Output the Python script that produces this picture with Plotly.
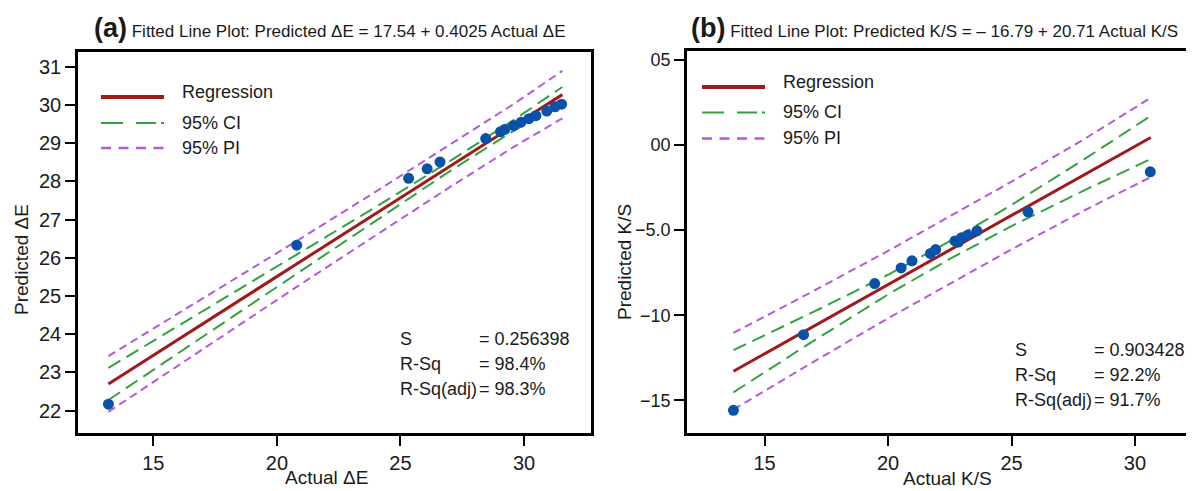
import plotly.graph_objects as go

# ---------------- data: panel (a) ----------------
ae_actual = [13.18, 20.80, 25.33, 26.08, 26.60, 28.45, 29.05, 29.22, 29.58, 29.88, 30.20, 30.48, 30.92, 31.25, 31.52]
ae_pred = [22.17, 26.33, 28.08, 28.33, 28.51, 29.12, 29.30, 29.36, 29.46, 29.55, 29.64, 29.72, 29.84, 29.95, 30.02]
ae_reg_x = [13.18, 31.55]
ae_reg_y = [22.70, 30.27]
ae_band_x = [13.18, 17.0, 20.8, 24.0, 27.0, 29.5, 31.55]
ae_ci_up = [23.12, 24.60, 26.09, 27.33, 28.53, 29.57, 30.47]
ae_ci_lo = [22.28, 23.94, 25.59, 26.99, 28.27, 29.29, 30.07]
ae_pi_up = [23.43, 24.93, 26.44, 27.73, 28.96, 29.99, 30.89]
ae_pi_lo = [21.97, 23.61, 25.24, 26.59, 27.85, 28.87, 29.65]
ae_xticks = [15, 20, 25, 30]
ae_yticks = [22, 23, 24, 25, 26, 27, 28, 29, 30, 31]
ae_stats_lbl = ["S", "R-Sq", "R-Sq(adj)"]
ae_stats_val = ["= 0.256398", "= 98.4%", "= 98.3%"]

# ---------------- data: panel (b) ----------------
ks_actual = [13.74, 16.58, 19.46, 20.53, 20.97, 21.72, 21.93, 22.71, 22.85, 22.97, 23.23, 23.60, 25.67, 30.62]
ks_pred = [-15.59, -11.14, -8.14, -7.22, -6.80, -6.37, -6.14, -5.63, -5.70, -5.45, -5.29, -5.04, -3.92, -1.57]
ks_reg_x = [13.74, 30.64]
ks_reg_y = [-13.29, 0.45]
ks_band_x = [13.74, 17.0, 20.0, 22.5, 25.0, 28.0, 30.64]
ks_ci_up = [-12.05, -9.79, -7.62, -5.65, -3.52, -0.78, 1.72]
ks_ci_lo = [-14.53, -11.49, -8.78, -6.69, -4.76, -2.62, -0.82]
ks_pi_up = [-11.04, -8.56, -6.22, -4.21, -2.15, 0.40, 2.78]
ks_pi_lo = [-15.54, -12.72, -10.18, -8.13, -6.13, -3.80, -1.88]
ks_xticks = [15, 20, 25, 30]
ks_yticks = [5, 0, -5, -10, -15]
ks_yticktext = ["05", "00", "\u22125.0", "\u221210", "\u221215"]
ks_stats_lbl = ["S", "R-Sq", "R-Sq(adj)"]
ks_stats_val = ["= 0.903428", "= 92.2%", "= 91.7%"]

legend_labels = ["Regression", "95% CI", "95% PI"]

# page has an 8px body margin: build figure so that page pixel (X, Y) maps correctly
OFF = 8
W, H = 1186, 483
FONT = "Liberation Sans, Arial, sans-serif"
REG_C = "#a01a1a"
CI_C = "#34a040"
PI_C = "#b658dc"
PT_C = "#0a52a8"
TXT = "#1a1a1a"

def px(x):
    return (x - OFF) / W

def py(y):
    return 1 - (y - OFF) / H

fig = go.Figure()

def add_panel(xa, ya, ax, ay, rx, ry, bx, ciu, cil, piu, pil):
    for yy in (piu, pil):
        fig.add_trace(go.Scatter(x=bx, y=yy, mode="lines", xaxis=xa, yaxis=ya,
                                 line=dict(color=PI_C, width=2, dash="8px,5px"),
                                 showlegend=False, hoverinfo="skip"))
    for yy in (ciu, cil):
        fig.add_trace(go.Scatter(x=bx, y=yy, mode="lines", xaxis=xa, yaxis=ya,
                                 line=dict(color=CI_C, width=2, dash="14px,7px"),
                                 showlegend=False, hoverinfo="skip"))
    fig.add_trace(go.Scatter(x=rx, y=ry, mode="lines", xaxis=xa, yaxis=ya,
                             line=dict(color=REG_C, width=3), showlegend=False))
    fig.add_trace(go.Scatter(x=ax, y=ay, mode="markers", xaxis=xa, yaxis=ya,
                             marker=dict(color=PT_C, size=11), showlegend=False))

add_panel("x", "y", ae_actual, ae_pred, ae_reg_x, ae_reg_y, ae_band_x,
          ae_ci_up, ae_ci_lo, ae_pi_up, ae_pi_lo)
add_panel("x2", "y2", ks_actual, ks_pred, ks_reg_x, ks_reg_y, ks_band_x,
          ks_ci_up, ks_ci_lo, ks_pi_up, ks_pi_lo)

def axis_common(size=20):
    return dict(showgrid=False, zeroline=False, showline=True, linecolor="black",
                linewidth=2.5, ticks="outside", ticklen=10, tickwidth=2,
                tickcolor="black", tickfont=dict(family=FONT, size=size, color=TXT),
                automargin=False)

fig.update_layout(
    width=W, height=H,
    margin=dict(l=0, r=0, t=0, b=0),
    paper_bgcolor="white", plot_bgcolor="white",
    xaxis=dict(domain=[px(78), px(591)], range=[11.95, 32.71], tickvals=ae_xticks,
               mirror=True, anchor="y", **axis_common()),
    yaxis=dict(domain=[py(433), py(52)], range=[21.417, 31.385], tickvals=ae_yticks,
               mirror=True, anchor="x", **axis_common()),
    xaxis2=dict(domain=[px(687), 1.0], range=[11.86, 32.39], tickvals=ks_xticks,
                mirror=True, anchor="y2", **axis_common()),
    yaxis2=dict(domain=[py(433), py(51)], range=[-16.92, 5.53], tickvals=ks_yticks,
                ticktext=ks_yticktext, mirror=False, anchor="x2", **axis_common(18)),
)

ann = []
def text(x, y, s, size=17, xanchor="left", angle=0):
    ann.append(dict(x=px(x), y=py(y), xref="paper", yref="paper", text=s, showarrow=False,
                    xanchor=xanchor, yanchor="middle", textangle=angle,
                    font=dict(family=FONT, size=size, color=TXT)))

# titles
text(92, 28, "<b><span style='font-size:27px'>(a)</span></b> Fitted Line Plot: Predicted \u0394E = 17.54 + 0.4025 Actual \u0394E", size=17)
text(689, 28, "<b><span style='font-size:27px'>(b)</span></b> Fitted Line Plot: Predicted K/S = \u2013 16.79 + 20.71 Actual K/S", size=17)

# axis titles
text(326, 477, "Actual \u0394E", size=19, xanchor="center")
text(947, 478, "Actual K/S", size=19, xanchor="center")
text(21, 260, "Predicted \u0394E", size=19, xanchor="center", angle=-90)
text(625, 262, "Predicted K/S", size=19, xanchor="center", angle=-90)

# stats
for i, (l, v) in enumerate(zip(ae_stats_lbl, ae_stats_val)):
    text(398, 339 + 25 * i, l, size=18)
    text(477, 339 + 25 * i, v, size=18)
for i, (l, v) in enumerate(zip(ks_stats_lbl, ks_stats_val)):
    text(1013, 350 + 25 * i, l, size=18)
    text(1092, 350 + 25 * i, v, size=18)

# legends (manual)
shapes = []
def leg(x0, ys, ty):
    specs = [(REG_C, 4, "solid"), (CI_C, 2, "22px,13px,20px,5px,3px,100px"), (PI_C, 2.5, "10px,7.5px")]
    for (c, w, d), y in zip(specs, ys):
        shapes.append(dict(type="line", xref="paper", yref="paper", x0=px(x0), x1=px(x0 + 63),
                           y0=py(y), y1=py(y), line=dict(color=c, width=w, dash=d)))
    for lab, y in zip(legend_labels, ty):
        text(x0 + 79, y, lab, size=18)

leg(101, [97, 123, 148], [92, 123, 148])
leg(702, [87, 112.5, 138.5], [82, 112, 138])

fig.update_layout(annotations=ann, shapes=shapes)
fig.write_html("out.html")
